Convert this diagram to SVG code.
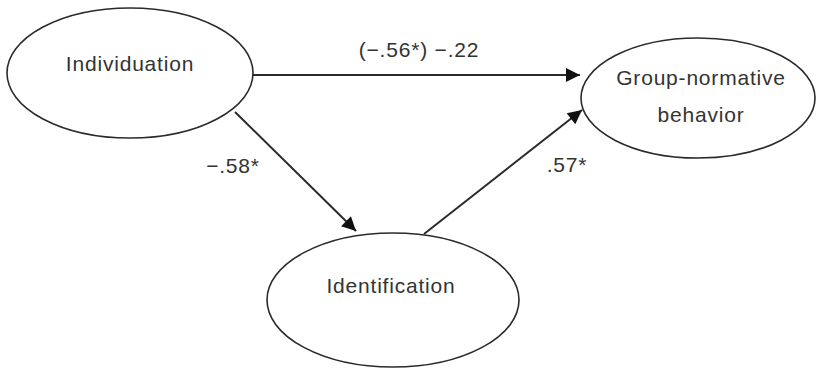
<svg xmlns="http://www.w3.org/2000/svg" width="818" height="372" viewBox="0 0 818 372">
<style>
.node ellipse{fill:#fff;stroke:#2a2a2a;stroke-width:1.6}
text{font-family:"Liberation Sans",Arial,sans-serif;font-size:21px;fill:#333;letter-spacing:0.8px;text-anchor:middle}
.conn line{stroke:#2a2a2a;stroke-width:2;marker-end:url(#ah)}
</style>
<defs>
<marker id="ah" viewBox="0 0 10 10" refX="10" refY="5" markerWidth="17" markerHeight="14" markerUnits="userSpaceOnUse" orient="auto">
<path d="M0,0L10,5L0,10Z" fill="#111"/>
</marker>
</defs>
<rect width="818" height="372" fill="#fff"/>
<g id="individuation" class="node"><ellipse cx="130" cy="73" rx="123" ry="65"/><text x="130" y="71">Individuation</text></g>
<g id="group-normative" class="node"><ellipse cx="698" cy="98" rx="117" ry="60"/><text x="701" y="85">Group-normative</text><text x="701" y="122">behavior</text></g>
<g id="identification" class="node"><ellipse cx="393" cy="300" rx="126" ry="67"/><text x="391" y="293">Identification</text></g>
<g id="connectors" class="conn">
<line x1="253" y1="75" x2="580" y2="75"/>
<line x1="235" y1="112" x2="356" y2="231"/>
<line x1="424" y1="234" x2="582" y2="110"/>
</g>
<g id="labels">
<text x="419" y="57">(−.56*) −.22</text>
<text x="233" y="173">−.58*</text>
<text x="567" y="172">.57*</text>
</g>
</svg>
